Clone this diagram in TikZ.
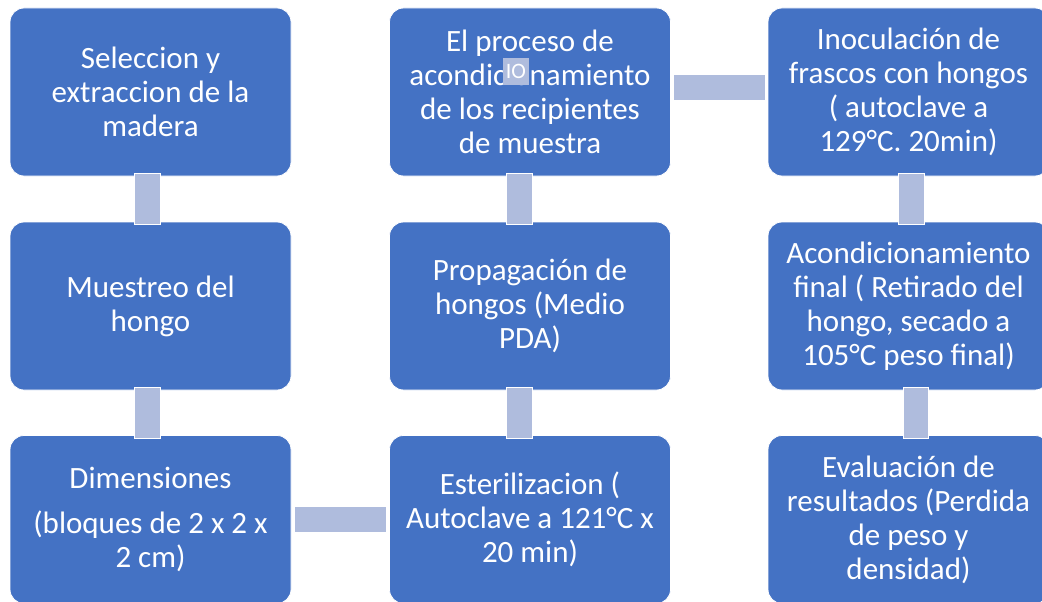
\documentclass[tikz,border=0pt]{standalone}
\usepackage{fontspec}
\setmainfont{Carlito}
\definecolor{boxblue}{HTML}{4472C4}
\definecolor{linkblue}{HTML}{AFBCDD}
\tikzset{
  stepbox/.style={draw=white, line width=0.8pt, fill=boxblue, rounded corners=14pt,
    minimum width=281pt, minimum height=168pt, inner sep=0pt, align=center,
    text=white, font=\fontsize{31}{34}\selectfont},
  link/.style={draw=white, line width=0.6pt, fill=linkblue},
}
\begin{document}
\begin{tikzpicture}[x=1pt, y=-1pt]
\useasboundingbox (0,0) rectangle (1042,602);
\clip (0,0) rectangle (1042,602);
% boxes
\node[stepbox] (a1) at (150.5,92) {Seleccion y\\extraccion de la\\madera};
\node[stepbox] (a2) at (150.5,306) {Muestreo del\\hongo};
\node[stepbox] (a3) at (150.5,519.5) {Dimensiones\\[11pt](bloques de 2 x 2 x\\2 cm)};
\node[stepbox] (b1) at (530,92) {El proceso de\\acondicionamiento\\de los recipientes\\de muestra};
\node[stepbox] (b2) at (530,306) {Propagación de\\hongos (Medio\\PDA)};
\node[stepbox] (b3) at (530,519.5) {Esterilizacion (\\Autoclave a 121°C x\\20 min)};
\node[stepbox] (c1) at (908.5,92) {Inoculación de\\frascos con hongos\\( autoclave a\\129°C. 20min)};
\node[stepbox] (c2) at (908.5,306) {Acondicionamiento\\final ( Retirado del\\hongo, secado a\\105°C peso final)};
\node[stepbox] (c3) at (908.5,519.5) {Evaluación de\\resultados (Perdida\\de peso y\\densidad)};
% connectors
\path[link] ([xshift=-16.5pt,yshift=3pt]a1.south) rectangle ([xshift=9.5pt,yshift=-3pt]a2.north);
\path[link] ([xshift=-16.5pt,yshift=3pt]a2.south) rectangle ([xshift=9.5pt,yshift=-3pt]a3.north);
\path[link] ([xshift=3pt,yshift=-13pt]a3.east) rectangle ([xshift=-3pt,yshift=13pt]b3.west);
\path[link] ([xshift=-24pt,yshift=-3pt]b3.north) rectangle ([xshift=2pt,yshift=3pt]b2.south);
\path[link] ([xshift=-24pt,yshift=-3pt]b2.north) rectangle ([xshift=2pt,yshift=3pt]b1.south);
\path[link] ([xshift=2pt,yshift=-8pt]b1.east) rectangle ([xshift=-2pt,yshift=18pt]c1.west);
\path[link] ([xshift=-10.5pt,yshift=3pt]c1.south) rectangle ([xshift=15.5pt,yshift=-3pt]c2.north);
\path[link] ([xshift=-5.5pt,yshift=3pt]c2.south) rectangle ([xshift=19.5pt,yshift=-3pt]c3.north);
% overlay artifact
\node[fill=linkblue, minimum width=26pt, minimum height=27pt, inner sep=0pt,
  text=white, font=\fontsize{22}{22}\selectfont] (io) at (516,71.5) {IO};
\end{tikzpicture}
\end{document}
